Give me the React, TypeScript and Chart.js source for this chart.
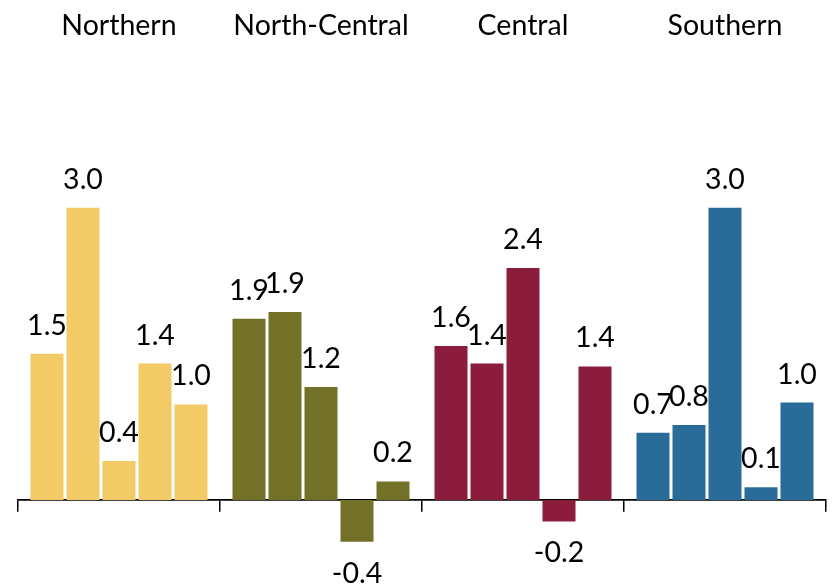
import React, { useEffect, useRef } from "react";
import { Chart, registerables } from "chart.js";

Chart.register(...registerables);

const regions = ["Northern", "North-Central", "Central", "Southern"];
const regionColors = ["#F2CA66", "#737027", "#8C1C3B", "#296C9A"];
// five bars per region (bar index i across regions)
const northern = [1.5, 3.0, 0.4, 1.4, 0.98];
const northCentral = [1.86, 1.93, 1.16, -0.43, 0.19];
const central = [1.58, 1.4, 2.38, -0.22, 1.37];
const southern = [0.69, 0.77, 3.0, 0.13, 1.0];

const FONT = "Lato, 'Open Sans', sans-serif";

export default function App() {
  const ref = useRef<HTMLCanvasElement | null>(null);

  useEffect(() => {
    const canvas = ref.current;
    if (!canvas) return;
    const groups = [northern, northCentral, central, southern];
    const datasets = [0, 1, 2, 3, 4].map((i) => ({
      label: "Bar " + (i + 1),
      data: groups.map((g) => g[i]),
      backgroundColor: regionColors,
      borderWidth: 0,
      categoryPercentage: 0.891,
      barPercentage: 0.917,
      xAxisID: "x",
    }));

    const labelPlugin = {
      id: "labels",
      afterDatasetsDraw(chart: any) {
        const ctx = chart.ctx;
        ctx.save();
        ctx.fillStyle = "#000";
        ctx.textAlign = "center";
        ctx.textBaseline = "alphabetic";
        ctx.font = `28.5px ${FONT}`;
        chart.data.datasets.forEach((ds: any, di: number) => {
          const meta = chart.getDatasetMeta(di);
          meta.data.forEach((el: any, idx: number) => {
            const v = ds.data[idx] as number;
            const txt = v.toFixed(1);
            if (v >= 0) {
              ctx.fillText(txt, el.x, el.y - 19);
            } else {
              ctx.fillText(txt, el.x, el.y + 41);
            }
          });
        });
        // group titles
        const xs = chart.scales.x;
        regions.forEach((r, i) => {
          ctx.fillText(r, xs.getPixelForValue(i), 35);
        });
        ctx.restore();
      },
    };

    const chart = new Chart(canvas, {
      type: "bar",
      data: { labels: regions, datasets },
      options: {
        responsive: false,
        animation: false,
        layout: { padding: { left: 18, right: 7, top: 168.7, bottom: 29.6 } },
        plugins: { legend: { display: false }, tooltip: { enabled: false } },
        scales: {
          x: {
            position: { y: 0 } as any,
            offset: true,
            grid: {
              display: true,
              offset: true,
              drawOnChartArea: false,
              drawTicks: true,
              tickLength: 11,
              color: "#000",
              lineWidth: 1.5,
            },
            border: { display: true, color: "#000", width: 1.8 },
            ticks: { display: false },
          },
          y: {
            display: false,
            min: -0.6,
            max: 3.4,
          },
        },
      },
      plugins: [labelPlugin],
    });
    return () => chart.destroy();
  }, []);

  return (
    <canvas
      ref={ref}
      width={833}
      height={588}
      style={{ position: "fixed", left: 0, top: 0, width: 833, height: 588, display: "block" }}
    />
  );
}
